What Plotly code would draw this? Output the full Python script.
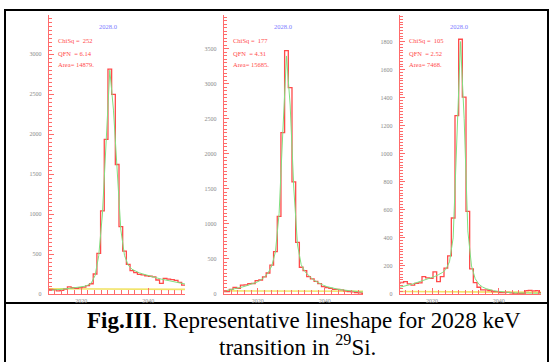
import plotly.graph_objects as go

# ---------------- data ----------------
bin_edges_kev = [2009.3, 2010.4, 2011.5, 2012.6, 2013.7, 2014.8, 2015.9, 2017.0, 2018.1, 2019.2,
                 2020.3, 2021.4, 2022.5, 2023.6, 2024.7, 2025.8, 2026.9, 2028.0, 2029.1, 2030.2,
                 2031.3, 2032.4, 2033.5, 2034.6, 2035.7, 2036.8, 2037.9, 2039.0, 2040.1, 2041.2,
                 2042.3, 2043.4, 2044.5, 2045.6, 2046.7, 2047.8, 2048.9, 2050.0, 2051.1, 2052.2,
                 2053.3]

counts_1 = [58, 58, 55, 40, 45, 62, 90, 78, 72, 80, 85, 104, 128, 250, 508, 1040, 1935, 2812, 2496, 1620,
            842, 537, 371, 292, 267, 246, 240, 228, 222, 215, 175, 133, 196, 187, 180, 170, 146, 112, 110, 105]
fit_1 = [42, 45, 50, 55, 60, 65, 70, 75, 80, 88, 95, 110, 140, 230, 480, 1000, 1900, 2800, 2300, 1500,
         800, 480, 360, 310, 285, 265, 250, 235, 222, 210, 198, 186, 175, 165, 155, 145, 135, 125, 118, 110]
bkg_1 = [65, 58]

counts_2 = [33, 33, 67, 95, 80, 126, 130, 148, 150, 190, 200, 246, 300, 413, 606, 1108, 2304, 3475, 2949, 1601,
            736, 382, 335, 249, 215, 180, 148, 105, 91, 80, 67, 67, 60, 45, 33, 30, 19, 15, 10, 8]
fit_2 = [40, 50, 60, 72, 85, 100, 115, 130, 150, 170, 200, 240, 300, 400, 600, 1150, 2300, 3400, 2700, 1500,
         700, 420, 320, 260, 215, 180, 150, 125, 105, 90, 78, 68, 60, 52, 45, 40, 35, 30, 27, 25]
bkg_2 = [45, 40]

counts_3 = [76, 82, 88, 72, 64, 76, 80, 124, 115, 112, 158, 88, 124, 184, 272, 542, 1272, 1817, 1404, 590,
            179, 81, 48, 29, 29, 25, 17, 17, 10, 10, 12, 8, 0, 2, 5, 24, 26, 22, 24, 10]
fit_3 = [45, 50, 58, 65, 72, 80, 88, 96, 105, 114, 125, 138, 152, 175, 230, 400, 1100, 1800, 1250, 450,
         200, 110, 70, 50, 38, 30, 24, 20, 16, 13, 11, 9, 8, 7, 6, 6, 5, 5, 5, 5]
bkg_3 = [18, 12]

panel_titles = ["2028.0", "2028.0", "2028.0"]
chisq = ["252", "177", "105"]
qfn = ["6.14", "4.31", "2.52"]
area = ["14879.", "15685.", "7468."]

x_tick_vals = [2020, 2040]
x_tick_text = ["2020", "2040"]

# ---------------- layout helpers ----------------
W, H = 550, 362
def px(x):
    return x / W
def py(y):
    return 1 - y / H

RED = "#ff4a4a"
AXRED = "#ff6b6b"
GREEN = "#7fe07f"
YELLOW = "#f2e46a"
BLUE = "#7a7aff"
GREY = "#8a8a8a"
FONT = "Liberation Serif"

panels = [
    dict(counts=counts_1, fit=fit_1, bkg=bkg_1, xdom=(49, 185), xr=(2010.4, 2051.0), yr=(0, 3490),
         ydt=500, ymin=50, tx=108, sx=56),
    dict(counts=counts_2, fit=fit_2, bkg=bkg_2, xdom=(224, 363), xr=(2009.9, 2051.4), yr=(0, 3985),
         ydt=500, ymin=50, tx=283, sx=231),
    dict(counts=counts_3, fit=fit_3, bkg=bkg_3, xdom=(400, 541), xr=(2010.4, 2052.7), yr=(0, 1990),
         ydt=200, ymin=20, tx=459, sx=407),
]

centers = [(a + b) / 2 for a, b in zip(bin_edges_kev[:-1], bin_edges_kev[1:])]

fig = go.Figure()
annotations = []
layout = {}
for i, p in enumerate(panels):
    n = "" if i == 0 else str(i + 1)
    xa, ya = "x" + n, "y" + n
    # background
    fig.add_trace(go.Scatter(x=[bin_edges_kev[0], bin_edges_kev[-1]], y=p["bkg"], mode="lines",
                             line=dict(color=YELLOW, width=1.6), xaxis=xa, yaxis=ya, showlegend=False))
    # histogram
    fig.add_trace(go.Scatter(x=bin_edges_kev, y=p["counts"] + [p["counts"][-1]], mode="lines",
                             line=dict(color=RED, width=1.3, shape="hv"), xaxis=xa, yaxis=ya, showlegend=False))
    # fit
    fig.add_trace(go.Scatter(x=centers, y=p["fit"], mode="lines",
                             line=dict(color=GREEN, width=1), xaxis=xa, yaxis=ya, showlegend=False))

    layout["xaxis" + n] = dict(
        domain=[px(p["xdom"][0]), px(p["xdom"][1])], range=list(p["xr"]), anchor=ya, automargin=False,
        showline=True, linecolor=AXRED, linewidth=1.2, showgrid=False, zeroline=False,
        ticks="inside", ticklen=6, tickcolor=AXRED, tickwidth=1,
        tickvals=x_tick_vals, ticktext=x_tick_text,
        tickfont=dict(family=FONT, size=6, color=GREY), ticklabelstandoff=1,
        minor=dict(dtick=2, tick0=2000, ticks="inside", ticklen=4, tickcolor=AXRED, tickwidth=1),
    )
    layout["yaxis" + n] = dict(
        domain=[py(294), py(15)], range=list(p["yr"]), anchor=xa, automargin=False,
        showline=True, linecolor=AXRED, linewidth=1.2, showgrid=False, zeroline=False,
        ticks="inside", ticklen=5, tickcolor=AXRED, tickwidth=1, dtick=p["ydt"], tick0=0,
        tickfont=dict(family=FONT, size=6, color=GREY), ticklabelstandoff=5,
        minor=dict(dtick=p["ymin"], tick0=0, ticks="inside", ticklen=2.5, tickcolor=AXRED, tickwidth=1),
    )
    annotations.append(dict(x=px(p["tx"]), y=py(26), xref="paper", yref="paper", text=panel_titles[i],
                            showarrow=False, xanchor="center", yanchor="middle",
                            font=dict(family=FONT, size=6.5, color=BLUE)))
    for txt, yy in [("ChiSq =  " + chisq[i], 41), ("QFN  = " + qfn[i], 54), ("Area= " + area[i], 64)]:
        annotations.append(dict(x=px(p["sx"]), y=py(yy), xref="paper", yref="paper", text=txt,
                                showarrow=False, xanchor="left", yanchor="middle",
                                font=dict(family=FONT, size=6.5, color=RED)))

# caption
annotations.append(dict(x=px(304), y=py(320), xref="paper", yref="paper",
                        text="<b>Fig.III</b>. Representative lineshape for 2028 keV",
                        showarrow=False, xanchor="center", yanchor="middle",
                        font=dict(family=FONT, size=23, color="black")))
annotations.append(dict(x=px(297), y=py(345), xref="paper", yref="paper",
                        text="transition in <sup>29</sup>Si.",
                        showarrow=False, xanchor="center", yanchor="middle",
                        font=dict(family=FONT, size=23, color="black")))

shapes = []
for (x0, y0, x1, y1) in [(5, 10, 548, 10), (5, 9, 5, 362), (548, 9, 548, 362), (5, 303, 548, 303)]:
    shapes.append(dict(type="line", xref="paper", yref="paper", x0=px(x0), y0=py(y0), x1=px(x1), y1=py(y1),
                       layer="below", line=dict(color="black", width=2)))

fig.update_layout(width=W, height=H, margin=dict(l=0, r=0, t=0, b=0),
                  paper_bgcolor="white", plot_bgcolor="rgba(0,0,0,0)",
                  annotations=annotations, shapes=shapes, showlegend=False, **layout)

fig.write_html("out.html", config={"displayModeBar": False, "staticPlot": True},
               post_script="document.body.style.margin='0';document.body.style.padding='0';"
                           "document.documentElement.style.overflow='hidden';")
